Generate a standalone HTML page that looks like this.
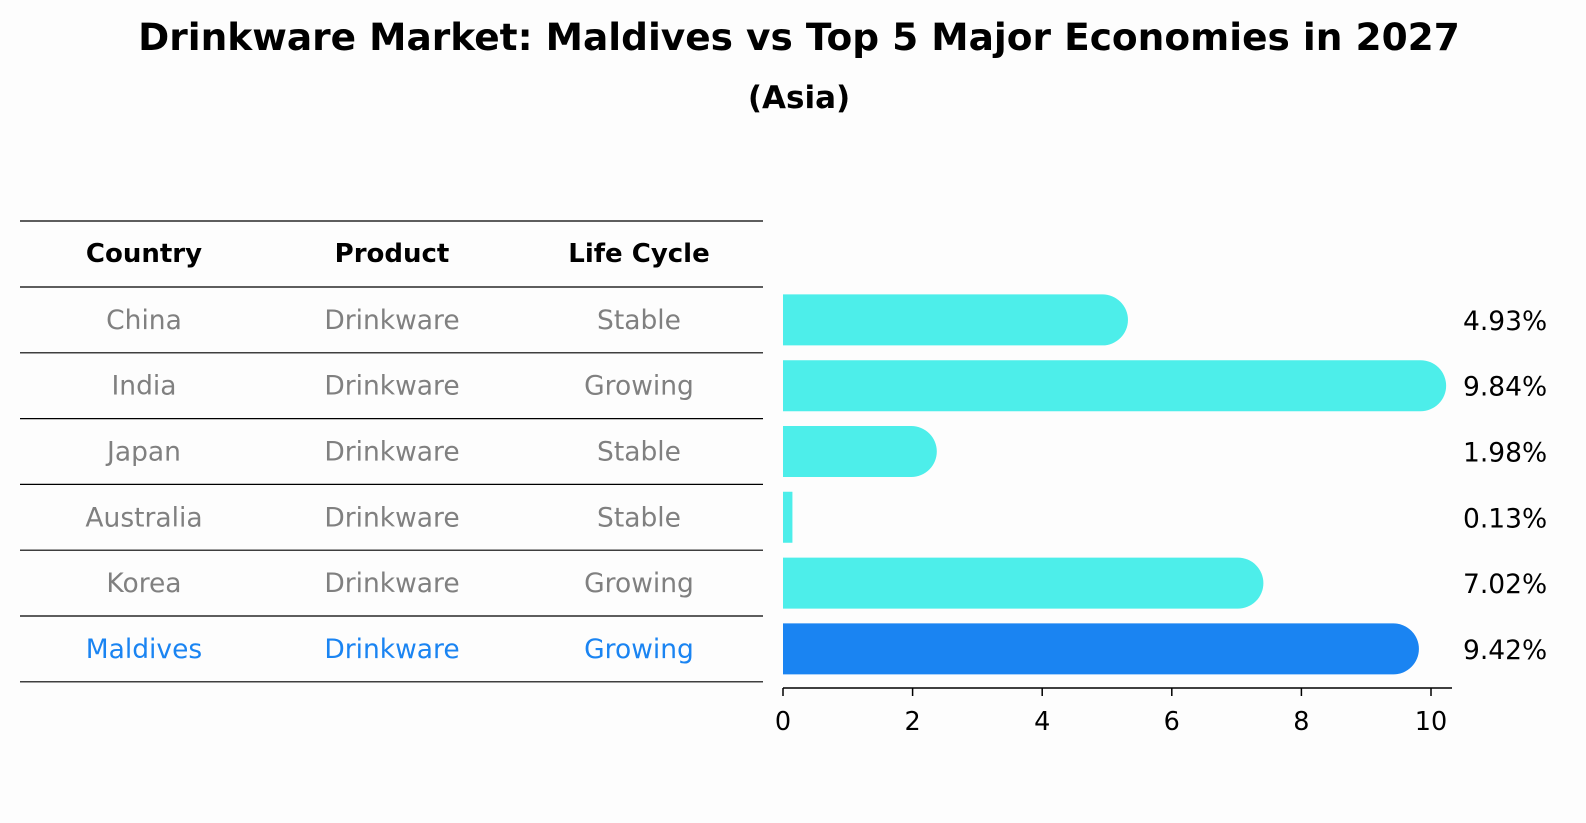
<!DOCTYPE html>
<html><head><meta charset="utf-8">
<style>
html,body{margin:0;padding:0;background:#fdfdfd;}
svg{display:block;font-family:"DejaVu Sans","Liberation Sans",sans-serif;}
</style></head>
<body>
<svg id="chart" width="1586" height="823" viewBox="0 0 1586 823">
<rect width="1586" height="823" fill="#fdfdfd"/>
<text x="799" y="50" text-anchor="middle" font-size="37.5" font-weight="bold">Drinkware Market: Maldives vs Top 5 Major Economies in 2027</text>
<text x="799" y="108" text-anchor="middle" font-size="31" font-weight="bold">(Asia)</text>
<g id="table"></g>
<g id="bars"></g>
<g id="axis"></g>
</svg>
<script>
const countries = ["China","India","Japan","Australia","Korea","Maldives"];
const products = ["Drinkware","Drinkware","Drinkware","Drinkware","Drinkware","Drinkware"];
const lifeCycles = ["Stable","Growing","Stable","Stable","Growing","Growing"];
const values = [4.93,9.84,1.98,0.13,7.02,9.42];
const valueLabels = ["4.93%","9.84%","1.98%","0.13%","7.02%","9.42%"];
const xTicks = [0,2,4,6,8,10];
const highlight = "Maldives";

const NS = "http://www.w3.org/2000/svg";
const x0 = 783, pxPerUnit = 64.8;
function xScale(v){ return x0 + v * pxPerUnit; }
const rowTop = 287, rowH = 65.8;
function yCenter(i){ return rowTop + rowH * i + rowH / 2; }
function mk(tag, attrs, parent){ const e = document.createElementNS(NS, tag); for (const k in attrs) e.setAttribute(k, attrs[k]); parent.appendChild(e); return e; }

const table = document.getElementById("table");
const cols = [144, 392, 639];
const headers = ["Country","Product","Life Cycle"];
headers.forEach((h, j) => {
  const t = mk("text", {x: cols[j], y: 262, "text-anchor": "middle", "font-size": 26, "font-weight": "bold", fill: "#000"}, table);
  t.textContent = h;
  
  
});
for (let k = 0; k <= countries.length + 1; k++) {
  const y = k === 0 ? 221 : rowTop + rowH * (k - 1);
  const l = mk("line", {x1: 20, x2: 763, y1: y, y2: y, stroke: "#000", "stroke-width": 1.2}, table);
  
  
}
countries.forEach((c, i) => {
  const col = c === highlight ? "#1a84f2" : "#808080";
  [c, products[i], lifeCycles[i]].forEach((txt, j) => {
    const t = mk("text", {x: cols[j], y: yCenter(i) + 9, "text-anchor": "middle", "font-size": 26.5, fill: col}, table);
    t.textContent = txt;
    
    
  });
});

const bars = document.getElementById("bars");
const halfH = 25.5;
values.forEach((v, i) => {
  const yc = yCenter(i);
  const xe = xScale(v);
  const w = xe - x0;
  const color = countries[i] === highlight ? "#1a84f2" : "#4deeea";
  let d;
  if (w > 20) {
    const r = halfH;
    d = `M${x0},${yc-halfH} L${xe},${yc-halfH} A${r},${r} 0 0 1 ${xe},${yc+halfH} L${x0},${yc+halfH} Z`;
  } else {
    d = `M${x0},${yc-halfH} L${xe+1},${yc-halfH} L${xe+1},${yc+halfH} L${x0},${yc+halfH} Z`;
  }
  const p = mk("path", {d: d, fill: color}, bars);
  
  
  const t = mk("text", {x: 1463, y: yc + 10, "font-size": 26.5, fill: "#000"}, bars);
  t.textContent = valueLabels[i];
  
  
});

const axis = document.getElementById("axis");
const al = mk("line", {x1: x0, x2: 1452, y1: 688, y2: 688, stroke: "#000", "stroke-width": 1.5}, axis);


xTicks.forEach(v => {
  const x = xScale(v);
  const tl = mk("line", {x1: x, x2: x, y1: 688, y2: 696, stroke: "#000", "stroke-width": 1.5}, axis);
  
  
  const t = mk("text", {x: x, y: 730, "text-anchor": "middle", "font-size": 25.5, fill: "#000"}, axis);
  t.textContent = String(v);
  
  
});
</script>
</body></html>
